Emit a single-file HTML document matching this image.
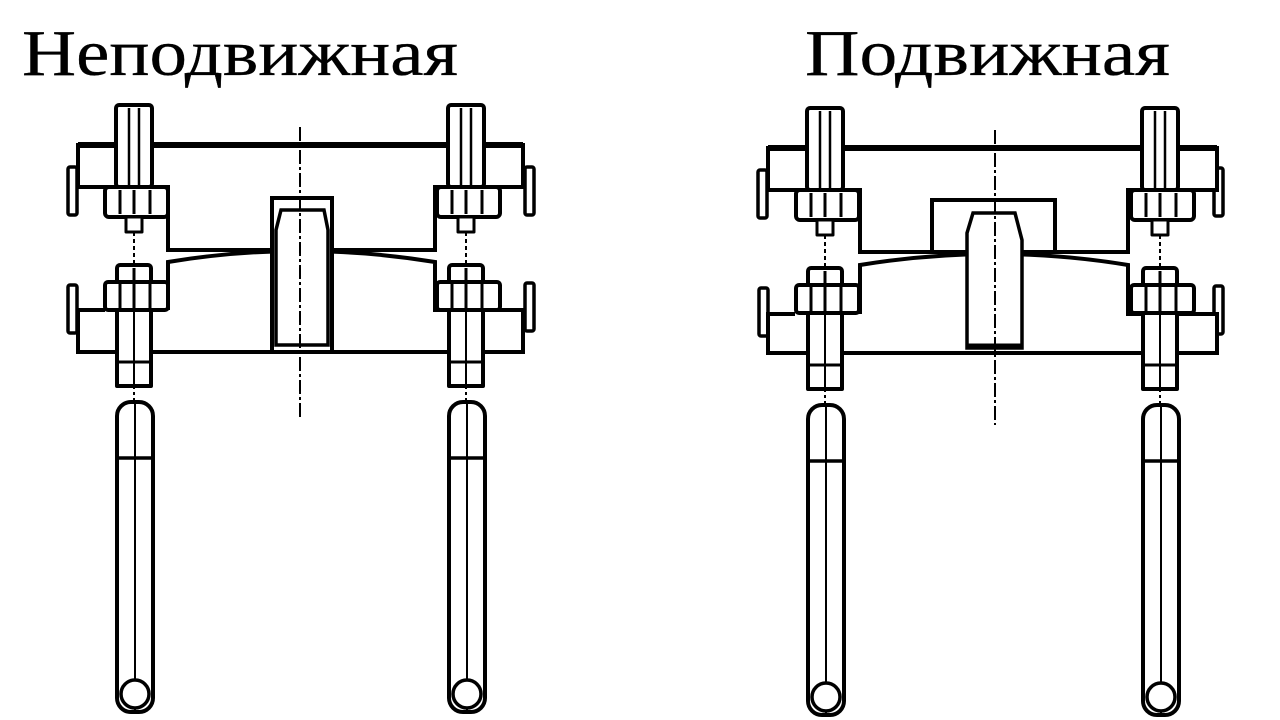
<!DOCTYPE html>
<html><head><meta charset="utf-8"><style>
html,body{margin:0;padding:0;background:#fff;}
svg{display:block;}
</style></head><body>
<svg width="1280" height="720" viewBox="0 0 1280 720" xmlns="http://www.w3.org/2000/svg">
<defs>
<g id="bolt" fill="#fff" stroke="#000" stroke-width="4" stroke-linejoin="round">
  <rect x="-18" y="105" width="36" height="82" rx="3"/>
  <line x1="-5" y1="108" x2="-5" y2="187" stroke-width="2.5"/>
  <line x1="5" y1="108" x2="5" y2="187" stroke-width="2.5"/>
  <rect x="-29" y="187" width="63" height="30" rx="4"/>
  <line x1="-14" y1="190" x2="-14" y2="214" stroke-width="3"/>
  <line x1="0" y1="190" x2="0" y2="214" stroke-width="3"/>
  <line x1="16" y1="190" x2="16" y2="214" stroke-width="3"/>
  <rect x="-8" y="217" width="16" height="15" stroke-width="3"/>
  <line x1="0" y1="232" x2="0" y2="265" stroke-width="2" stroke-dasharray="4,3"/>
  <rect x="-17" y="265" width="34" height="18" rx="3"/>
  <rect x="-29" y="282" width="63" height="28" rx="3"/>
  <line x1="-14" y1="284" x2="-14" y2="308" stroke-width="3"/>
  <line x1="0" y1="268" x2="0" y2="308" stroke-width="3"/>
  <line x1="16" y1="284" x2="16" y2="308" stroke-width="3"/>
  <rect x="-17" y="310" width="34" height="76"/>
  <line x1="-17" y1="362" x2="17" y2="362" stroke-width="3"/>
  <line x1="0" y1="310" x2="0" y2="386" stroke-width="2"/>
  <line x1="0" y1="386" x2="0" y2="402" stroke-width="2" stroke-dasharray="3,3"/>
  <rect x="-17" y="402" width="36" height="310" rx="14"/>
  <line x1="-17" y1="458" x2="19" y2="458" stroke-width="3.5"/>
  <line x1="1" y1="404" x2="1" y2="712" stroke-width="2"/>
  <circle cx="1" cy="694" r="14" stroke-width="3.5"/>
</g>
<g id="lug" fill="#fff" stroke="#000" stroke-width="3.5">
  <rect x="0" y="0" width="9" height="48" rx="2"/>
</g>
</defs>

<text x="22" y="75" font-family="Liberation Serif, serif" font-size="66" textLength="436" lengthAdjust="spacingAndGlyphs" fill="#000" stroke="#000" stroke-width="0.3">Неподвижная</text>
<text x="805" y="75" font-family="Liberation Serif, serif" font-size="66" textLength="365" lengthAdjust="spacingAndGlyphs" fill="#000" stroke="#000" stroke-width="0.3">Подвижная</text>

<g fill="none" stroke="#000" stroke-width="4" stroke-linejoin="miter">
  <use href="#lug" x="68" y="167"/>
  <use href="#lug" x="525" y="167"/>
  <use href="#lug" x="68" y="285"/>
  <use href="#lug" x="525" y="283"/>
  <path d="M78 187 V145 H523 V187 H435 V250 H168 V187 Z" fill="#fff"/>
  <line x1="78" y1="145" x2="523" y2="145" stroke-width="6"/>
  <path d="M168 310 V262 Q300 240 435 262 V310 H523 V352 H78 V310 H105" fill="#fff"/>
  <rect x="272" y="198" width="60" height="154" fill="#fff"/>
  <path d="M276 230 L281 210 H324 L328 230 V345 H276 Z" stroke-width="3.5"/>
  <line x1="300" y1="127" x2="300" y2="420" stroke-width="2" stroke-dasharray="14,3,3,3"/>
</g>
<use href="#bolt" x="134" y="0"/>
<use href="#bolt" x="466" y="0"/>

<g fill="none" stroke="#000" stroke-width="4" stroke-linejoin="miter">
  <use href="#lug" x="758" y="170"/>
  <use href="#lug" x="1214" y="168"/>
  <use href="#lug" x="759" y="288"/>
  <use href="#lug" x="1214" y="286"/>
  <path d="M768 190 V148 H1217 V190 H1128 V252 H860 V190 Z" fill="#fff"/>
  <line x1="768" y1="148" x2="1217" y2="148" stroke-width="6"/>
  <path d="M860 314 V265 Q995 243 1128 265 V314 H1217 V353 H768 V314 H795" fill="#fff"/>
  <rect x="932" y="200" width="123" height="52" fill="#fff"/>
  <path d="M967 233 L973 213 H1015 L1022 240 V348 H967 Z" fill="#fff" stroke-width="3.5"/>
  <line x1="967" y1="345" x2="1022" y2="345" stroke-width="3"/>
  <line x1="995" y1="130" x2="995" y2="425" stroke-width="2" stroke-dasharray="14,3,3,3"/>
</g>
<use href="#bolt" x="825" y="3"/>
<use href="#bolt" x="1160" y="3"/>
</svg>
</body></html>
